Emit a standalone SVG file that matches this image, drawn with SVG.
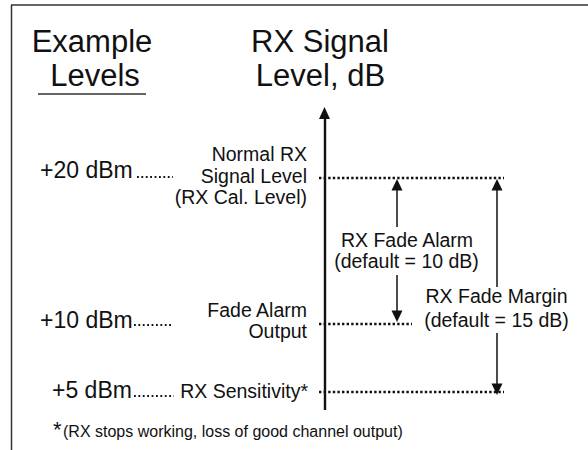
<svg xmlns="http://www.w3.org/2000/svg" width="588" height="450" viewBox="0 0 588 450">
<style>
text{font-family:"Liberation Sans",Arial,sans-serif;fill:#111}
.h{font-size:31px;text-anchor:middle}
.s{font-size:19.5px}
.e{text-anchor:end}
.m{text-anchor:middle}
.d{font-size:23px}
.ln{stroke:#111;stroke-width:1.5;fill:none}
.ax{stroke:#111;stroke-width:2.4;fill:none}
.dot{stroke:#111;stroke-width:2.4;stroke-dasharray:2.4 2.2;fill:none}
.ld{stroke:#111;stroke-width:1.8;stroke-dasharray:1.8 2.6;fill:none}
.ah{fill:#111}
</style>
<rect width="588" height="450" fill="#fff"/>
<g id="frame">
<line x1="11" y1="5" x2="588" y2="5" stroke="#666" stroke-width="2"/>
<line x1="11.5" y1="5" x2="11.5" y2="450" stroke="#333" stroke-width="1.5"/>
</g>
<g id="header-example">
<text class="h" x="92" y="52">Example</text>
<text class="h" x="95" y="86">Levels</text>
<line x1="38" y1="94" x2="146" y2="94" stroke="#333" stroke-width="1.5"/>
</g>
<g id="header-rx">
<text class="h" x="320" y="52">RX Signal</text>
<text class="h" x="320.5" y="86">Level, dB</text>
</g>
<g id="level-20">
<text class="d" x="40" y="178">+20 dBm</text>
<line class="ld" x1="137" y1="177" x2="173" y2="177"/>
<text class="s e" x="307" y="161">Normal RX</text>
<text class="s e" x="307" y="182.5">Signal Level</text>
<text class="s e" x="307" y="204">(RX Cal. Level)</text>
</g>
<g id="level-10">
<text class="d" x="40" y="328">+10 dBm</text>
<line class="ld" x1="134" y1="325" x2="173" y2="325"/>
<text class="s e" x="307" y="316.5">Fade Alarm</text>
<text class="s e" x="307" y="337.5">Output</text>
</g>
<g id="level-5">
<text class="d" x="52" y="398">+5 dBm</text>
<line class="ld" x1="134" y1="396" x2="174" y2="396"/>
<text class="s e" x="308" y="398">RX Sensitivity*</text>
</g>
<g id="footnote">
<text x="53" y="437" style="font-size:22px">*</text>
<text x="63" y="437" style="font-size:16px">(RX stops working, loss of good channel output)</text>
</g>
<g id="fade-alarm">
<text class="s m" x="407" y="247">RX Fade Alarm</text>
<text class="s m" x="406.5" y="268">(default = 10 dB)</text>
</g>
<g id="fade-margin">
<text class="s m" x="496.5" y="303">RX Fade Margin</text>
<text class="s m" x="496.5" y="327">(default = 15 dB)</text>
</g>
<g id="connectors">
<line class="ax" x1="325" y1="116" x2="325" y2="410"/>
<polygon class="ah" points="324.5,107 319,119 330,119"/>
<line class="dot" x1="319" y1="178" x2="504" y2="178"/>
<line class="dot" x1="319" y1="324" x2="412" y2="324"/>
<line class="dot" x1="319" y1="392" x2="504" y2="392"/>
<line class="ln" x1="397" y1="227" x2="397" y2="188"/>
<polygon class="ah" points="397,179 391.5,190.5 402.5,190.5"/>
<line class="ln" x1="397" y1="275" x2="397" y2="313"/>
<polygon class="ah" points="397,322 391.5,310.5 402.5,310.5"/>
<line class="ln" x1="497" y1="287" x2="497" y2="188"/>
<polygon class="ah" points="497,179 491.5,190.5 502.5,190.5"/>
<line class="ln" x1="497" y1="333" x2="497" y2="386"/>
<polygon class="ah" points="497,395 491.5,383.5 502.5,383.5"/>
</g>
</svg>
